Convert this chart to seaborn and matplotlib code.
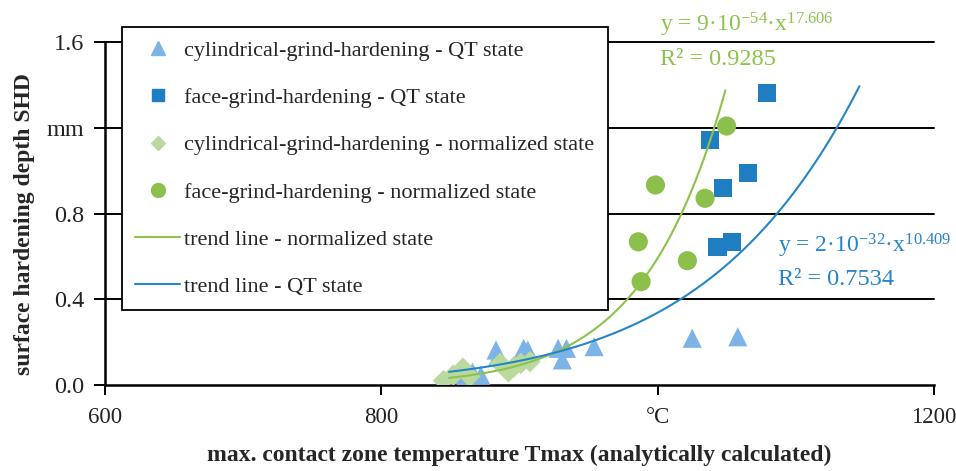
import numpy as np
import pandas as pd
import matplotlib
matplotlib.use("Agg")
import matplotlib.pyplot as plt
import seaborn as sns
from matplotlib.lines import Line2D

# ---------------- data ----------------
cyl_qt_T = [852, 861, 866, 872, 883, 884, 903, 906, 928, 931, 934, 954, 1025, 1058]
cyl_qt_y = [0.05, 0.04, 0.06, 0.045, 0.163, 0.13, 0.171, 0.163, 0.171, 0.117, 0.171, 0.179, 0.218, 0.225]

face_qt_T = [1079, 1037.6, 1065.6, 1047.5, 1043.3, 1054.1]
face_qt_y = [1.361, 1.143, 0.987, 0.917, 0.645, 0.668]

cyl_norm_T = [845, 852, 859, 864, 886, 892, 896, 901, 907.6]
cyl_norm_y = [0.02, 0.045, 0.078, 0.04, 0.101, 0.062, 0.085, 0.101, 0.109]

face_norm_T = [1049.9, 998.4, 1034.3, 986, 1021.5, 988]
face_norm_y = [1.208, 0.933, 0.871, 0.668, 0.580, 0.482]

# trend lines y = a * x^b  (coefficients as given on chart)
trend_norm_a, trend_norm_b, trend_norm_range = 9e-54, 17.606, (849, 1049)
trend_qt_a, trend_qt_b, trend_qt_range = 2e-32, 10.409, (849, 1146)

x_ticks = [600, 800, 1000, 1200]
x_ticklabels = ["600", "800", "°C", "1200"]
y_ticks = [0.0, 0.4, 0.8, 1.2, 1.6]
y_ticklabels = ["0.0", "0.4", "0.8", "mm", "1.6"]

labels = [
    "cylindrical-grind-hardening - QT state",
    "face-grind-hardening - QT state",
    "cylindrical-grind-hardening - normalized state",
    "face-grind-hardening - normalized state",
    "trend line - normalized state",
    "trend line - QT state",
]

# ---------------- style ----------------
sns.set_theme(style="white")
FONT = "Liberation Serif"
plt.rcParams["font.family"] = [FONT, "DejaVu Serif"]
plt.rcParams["mathtext.fontset"] = "custom"
plt.rcParams["mathtext.rm"] = FONT
plt.rcParams["mathtext.it"] = FONT + ":italic"
plt.rcParams["mathtext.bf"] = FONT + ":bold"

c_tri = "#7DB3E6"
c_sq = "#1F7DC2"
c_dia = "#B9D99E"
c_circ = "#8CBF4C"
c_gline = "#8DC34A"
c_bline = "#2585C8"

fig = plt.figure(figsize=(9.56, 4.71), dpi=100)
ax = fig.add_axes([105 / 956, 1 - 385 / 471, (934 - 105) / 956, (385 - 42) / 471])

# gridlines
for yv in y_ticks[1:]:
    ax.axhline(yv, color="black", lw=1.4, zorder=0, clip_on=False)

# scatter series
sns.scatterplot(x=cyl_qt_T, y=cyl_qt_y, marker="^", s=190, color=c_tri, edgecolor="none", ax=ax, zorder=3)
sns.scatterplot(x=face_qt_T, y=face_qt_y, marker="s", s=170, color=c_sq, edgecolor="none", ax=ax, zorder=3)
sns.scatterplot(x=cyl_norm_T, y=cyl_norm_y, marker="D", s=120, color=c_dia, edgecolor="none", ax=ax, zorder=3)
sns.scatterplot(x=face_norm_T, y=face_norm_y, marker="o", s=190, color=c_circ, edgecolor="none", ax=ax, zorder=3)

# trend lines
xn = np.linspace(*trend_norm_range, 200)
xq = np.linspace(*trend_qt_range, 200)
sns.lineplot(x=xn, y=trend_norm_a * xn ** trend_norm_b, color=c_gline, lw=1.5, ax=ax, zorder=4)
sns.lineplot(x=xq, y=trend_qt_a * xq ** trend_qt_b, color=c_bline, lw=1.5, ax=ax, zorder=4)

ax.set_xlim(600, 1200)
ax.set_ylim(0, 1.6)
ax.set_xticks(x_ticks)
ax.set_xticklabels(x_ticklabels)
ax.set_yticks(y_ticks)
ax.set_yticklabels(y_ticklabels)
ax.tick_params(axis="x", direction="out", length=7, width=1.4, color="black", labelsize=16.5, pad=9, bottom=True)
ax.tick_params(axis="y", direction="out", length=8, width=1.4, color="black", labelsize=17.5, pad=7, left=True)
for lab in ax.get_xticklabels() + ax.get_yticklabels():
    lab.set_color("#222222")

for side in ["top", "right"]:
    ax.spines[side].set_visible(False)
for side in ["left", "bottom"]:
    ax.spines[side].set_color("black")
    ax.spines[side].set_linewidth(1.8)

ax.set_xlabel("max. contact zone temperature Tmax (analytically calculated)",
              fontsize=17, fontweight="bold", labelpad=12)
ax.set_ylabel("surface hardening depth SHD", fontsize=17, fontweight="bold")
ax.yaxis.set_label_coords(-0.084, 0.47)

# equations
ax.text(1001.5, 1.648, r"y = 9·10$^{-54}$·x$^{17.606}$", color=c_gline, fontsize=17,
        va="baseline", ha="left", clip_on=False)
ax.text(1001.5, 1.493, "R² = 0.9285", color=c_gline, fontsize=17.5, va="baseline", ha="left")
ax.text(1087, 0.616, r"y = 2·10$^{-32}$·x$^{10.409}$", color=c_bline, fontsize=17,
        va="baseline", ha="left")
ax.text(1087, 0.466, "R² = 0.7534", color=c_bline, fontsize=17.5, va="baseline", ha="left")

# legend
handles = [
    Line2D([], [], ls="none", marker="^", ms=10, color=c_tri),
    Line2D([], [], ls="none", marker="s", ms=9, color=c_sq),
    Line2D([], [], ls="none", marker="D", ms=7, color=c_dia),
    Line2D([], [], ls="none", marker="o", ms=10, color=c_circ),
    Line2D([], [], color=c_gline, lw=1.5),
    Line2D([], [], color=c_bline, lw=1.5),
]
leg = fig.legend(handles, labels, loc="upper left", bbox_to_anchor=(122 / 956, 1 - 27 / 471),
                 fontsize=16, frameon=True, fancybox=False, framealpha=1, edgecolor="black",
                 labelspacing=1.2, handlelength=2.0, handletextpad=0.2, borderpad=0.6,
                 borderaxespad=0)
leg.get_frame().set_linewidth(1.3)
leg.set_zorder(10)

fig.savefig("out.png", dpi=100)
